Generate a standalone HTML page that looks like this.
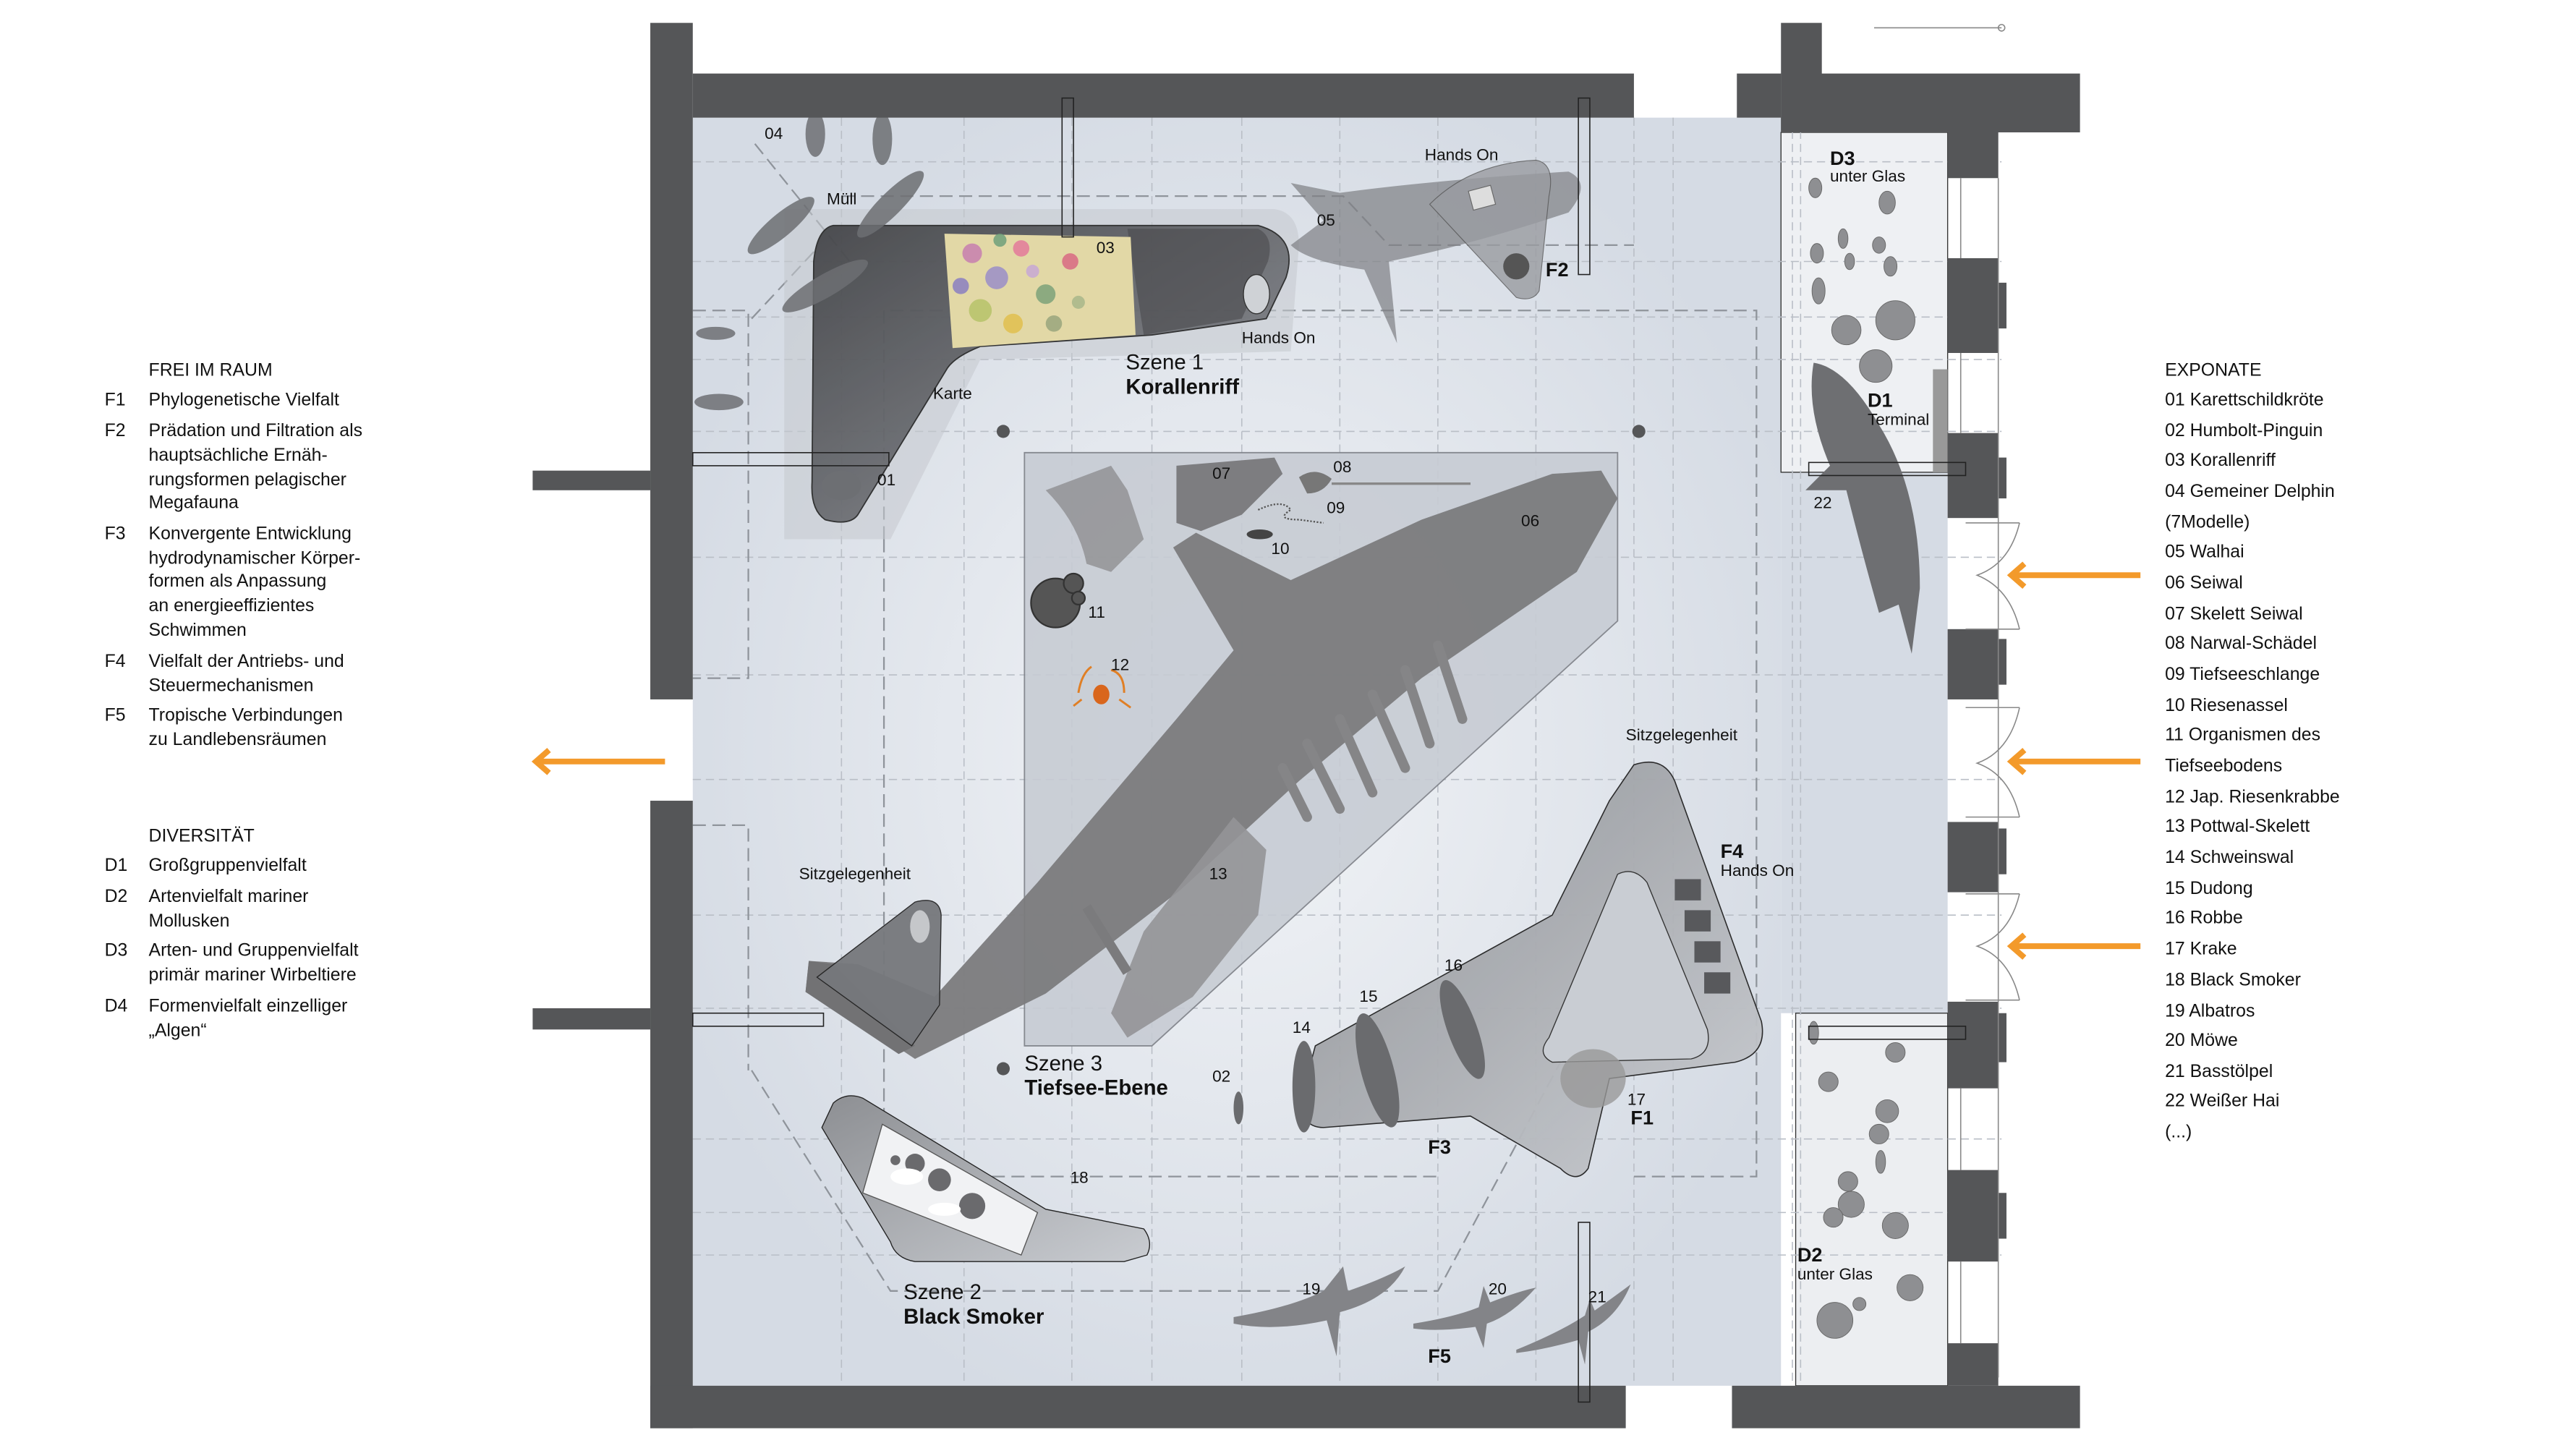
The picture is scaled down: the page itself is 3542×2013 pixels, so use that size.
<!DOCTYPE html>
<html><head><meta charset="utf-8">
<style>
html,body{margin:0;padding:0;background:#fff;}
svg{display:block;}
text{font-family:"Liberation Sans",sans-serif;}
</style></head>
<body>
<svg width="3542" height="2013" viewBox="0 0 1568 891" preserveAspectRatio="none" xmlns="http://www.w3.org/2000/svg">
<defs>
<radialGradient id="glow" cx="50%" cy="50%" r="55%">
<stop offset="0" stop-color="#f2f4f7"/><stop offset="1" stop-color="#d5dbe4"/>
</radialGradient>
<linearGradient id="dk" x1="0" y1="0" x2="1" y2="1">
<stop offset="0" stop-color="#3e3f42"/><stop offset="0.6" stop-color="#6e7075"/><stop offset="1" stop-color="#a4a7ac"/>
</linearGradient>
<linearGradient id="lg" x1="0" y1="0" x2="1" y2="1">
<stop offset="0" stop-color="#8d8f93"/><stop offset="1" stop-color="#c9ccd1"/>
</linearGradient>
</defs>
<rect width="1568" height="891" fill="#fff"/>

<!-- floor -->
<rect x="424" y="72" width="666" height="776" fill="url(#glow)"/>
<rect x="1090" y="289" width="102" height="331" fill="#d5dbe4"/>
<rect x="1090" y="81" width="102" height="208" fill="#eef0f3" stroke="#333" stroke-width="0.6"/>
<rect x="1099" y="620" width="93" height="228" fill="#eceef1" stroke="#333" stroke-width="0.6"/>

<!-- dashed grid -->
<g stroke="#b9bec6" stroke-width="0.7" stroke-dasharray="5 3" fill="none">
<line x1="424" y1="99" x2="1225" y2="99"/>
<line x1="424" y1="160" x2="1225" y2="160"/>
<line x1="424" y1="194" x2="1225" y2="194"/>
<line x1="424" y1="220" x2="1225" y2="220"/>
<line x1="424" y1="264" x2="1225" y2="264"/>
<line x1="424" y1="341" x2="1225" y2="341"/>
<line x1="424" y1="413" x2="1225" y2="413"/>
<line x1="424" y1="477" x2="1225" y2="477"/>
<line x1="424" y1="560" x2="1225" y2="560"/>
<line x1="424" y1="617" x2="1225" y2="617"/>
<line x1="424" y1="697" x2="1225" y2="697"/>
<line x1="424" y1="742" x2="1225" y2="742"/>
<line x1="424" y1="768" x2="1225" y2="768"/>
<line x1="515" y1="72" x2="515" y2="848"/>
<line x1="590" y1="72" x2="590" y2="848"/>
<line x1="656" y1="72" x2="656" y2="848"/>
<line x1="705" y1="72" x2="705" y2="848"/>
<line x1="760" y1="72" x2="760" y2="848"/>
<line x1="820" y1="72" x2="820" y2="848"/>
<line x1="880" y1="72" x2="880" y2="848"/>
<line x1="940" y1="72" x2="940" y2="848"/>
<line x1="1000" y1="72" x2="1000" y2="848"/>
<line x1="1024" y1="72" x2="1024" y2="848"/>
<line x1="1097" y1="72" x2="1097" y2="848"/>
<line x1="1102" y1="72" x2="1102" y2="848"/>
</g>
<g stroke="#8f949b" stroke-width="1" stroke-dasharray="8 4" fill="none">
<polyline points="541,330 541,190 1075,190 1075,720 1000,720"/>
<polyline points="541,330 541,720 880,720"/>
<polyline points="424,190 458,190 458,415 424,415"/>
<polyline points="424,505 458,505 458,655"/>
<polyline points="515,120 822,120 850,150 1000,150"/>
<polyline points="460,195 500,152"/>
<polyline points="460,655 545,790 880,790 955,650"/>
<polyline points="462,88 520,160"/>
</g>

<!-- Scene 3 platform -->
<polygon points="627,277 990,277 990,380 705,640 627,640" fill="#c7ccd4" stroke="#7d8087" stroke-width="0.8" opacity="0.9"/>

<!-- Scene 1 L structure -->
<path d="M480,128 L780,128 Q795,130 795,150 L790,215 L600,220 L545,330 L480,330 Z" fill="#c4c8ce" opacity="0.55"/>
<path d="M510,138 L770,138 Q795,145 787,170 L775,195 L705,205 L600,212 Q585,218 580,225 L525,315 Q520,322 505,318 Q496,312 497,295 L498,160 Q500,140 510,138 Z" fill="url(#dk)" stroke="#222" stroke-width="0.8" opacity="0.9"/>
<path d="M690,140 L770,140 Q780,145 776,160 L760,195 L700,205 Z" fill="#4a4a4d" opacity="0.6"/>
<polygon points="578,143 692,145 695,205 583,213" fill="#e2d8a6"/>
<g opacity="0.85">
<circle cx="595" cy="155" r="6" fill="#c77fb0"/><circle cx="610" cy="170" r="7" fill="#9b8fc9"/>
<circle cx="625" cy="152" r="5" fill="#e47b9b"/><circle cx="600" cy="190" r="7" fill="#b7c36a"/>
<circle cx="640" cy="180" r="6" fill="#7ea37a"/><circle cx="655" cy="160" r="5" fill="#d96a83"/>
<circle cx="620" cy="198" r="6" fill="#e1c04f"/><circle cx="645" cy="198" r="5" fill="#9aa67e"/>
<circle cx="588" cy="175" r="5" fill="#8b7fc2"/><circle cx="632" cy="166" r="4" fill="#c8a9d6"/>
<circle cx="660" cy="185" r="4" fill="#a9b88a"/><circle cx="612" cy="147" r="4" fill="#6fa07b"/>
</g>
<ellipse cx="769" cy="180" rx="8" ry="12" fill="#cfd2d6" stroke="#333" stroke-width="0.6"/>

<!-- dolphins 04 -->
<g fill="#6d6f73" opacity="0.85">
<ellipse cx="499" cy="82" rx="6" ry="14"/><ellipse cx="540" cy="85" rx="6" ry="16"/>
<ellipse cx="478" cy="138" rx="26" ry="7" transform="rotate(-40 478 138)"/>
<ellipse cx="545" cy="125" rx="28" ry="7" transform="rotate(-45 545 125)"/>
<ellipse cx="505" cy="175" rx="30" ry="7" transform="rotate(-30 505 175)"/>
<ellipse cx="438" cy="204" rx="12" ry="4"/><ellipse cx="440" cy="246" rx="15" ry="5"/>
</g>
<ellipse cx="515" cy="297" rx="12" ry="9" fill="#6d6f73"/>

<!-- whale shark 05 -->
<g fill="#7d7f83" opacity="0.7">
<path d="M790,112 L820,118 Q880,110 960,105 Q975,112 960,130 Q900,150 850,160 L855,210 L835,165 Q800,160 790,150 L810,135 Z"/>
</g>
<path d="M875,125 Q900,100 940,98 Q952,100 948,120 L942,178 Q938,185 928,182 Z" fill="#9a9ca1" opacity="0.8" stroke="#555" stroke-width="0.5"/>
<rect x="900" y="115" width="14" height="12" fill="#ddd" stroke="#666" stroke-width="0.5" transform="rotate(-15 907 121)"/>
<circle cx="928" cy="163" r="8" fill="#555"/>

<!-- whale 06 -->
<polygon points="980,288 990,305 965,350 870,415 795,478 722,545 640,608 560,648 548,640 493,607 495,588 525,590 572,610 635,540 720,440 755,398 718,335 732,326 790,355 870,318 950,290" fill="#7b7b7d" opacity="0.95"/>
<polygon points="495,588 510,590 560,640 550,645 493,607" fill="#727274"/>
<g stroke="#858587" stroke-width="6" stroke-linecap="round" fill="none">
<line x1="880" y1="395" x2="895" y2="440"/><line x1="860" y1="410" x2="875" y2="455"/>
<line x1="840" y1="425" x2="860" y2="470"/><line x1="820" y1="440" x2="840" y2="485"/>
<line x1="800" y1="455" x2="820" y2="495"/><line x1="785" y1="470" x2="800" y2="500"/>
</g>
<polygon points="700,570 755,500 775,520 770,560 730,610 690,635 680,620" fill="#949497" opacity="0.9"/>
<line x1="665" y1="555" x2="690" y2="595" stroke="#7b7b7d" stroke-width="6"/>
<!-- 07 08 -->
<polygon points="720,285 780,280 785,290 760,315 735,325 720,320" fill="#7d7d80"/>
<path d="M640,300 Q660,320 665,345 L680,350 L700,330 L690,300 L680,285 Z" fill="#8e8e91" opacity="0.8"/>
<path d="M795,292 Q805,285 815,293 Q810,302 800,302 Z" fill="#777"/>
<line x1="815" y1="296" x2="900" y2="296" stroke="#888" stroke-width="1.5"/>
<ellipse cx="771" cy="327" rx="8" ry="3" fill="#444"/>
<path d="M770,312 Q785,305 790,312 Q780,318 795,318 L810,320" stroke="#555" stroke-width="1" fill="none" stroke-dasharray="1 1"/>
<circle cx="646" cy="369" r="15" fill="#555" stroke="#333"/>
<circle cx="657" cy="357" r="6" fill="#555" stroke="#333"/>
<circle cx="660" cy="366" r="4" fill="#555" stroke="#333"/>
<!-- crab -->
<g stroke="#e07f25" stroke-width="1.3" fill="none">
<path d="M660,424 Q662,412 668,408"/><path d="M688,424 Q688,412 680,410"/>
<path d="M662,428 L657,432"/><path d="M685,428 L692,433"/>
</g>
<ellipse cx="674" cy="425" rx="5" ry="6" fill="#d9661c"/>

<!-- Sitzgelegenheit left -->
<path d="M500,598 L560,552 Q575,548 576,560 L575,615 L558,640 Z" fill="#76787c" stroke="#222" stroke-width="0.6" opacity="0.95"/>
<ellipse cx="563" cy="567" rx="6" ry="10" fill="#c5c7ca"/>

<!-- F4 / F3 -->
<path d="M1000,468 Q1018,462 1025,478 L1078,625 Q1082,645 1062,650 L985,660 L972,715 Q965,725 955,715 L900,683 L810,690 Q795,690 797,670 L805,640 L950,560 L985,490 Z" fill="url(#lg)" stroke="#222" stroke-width="0.7" opacity="0.95"/>
<path d="M990,535 Q1000,530 1008,540 L1045,630 Q1048,645 1035,648 L950,650 Q940,645 948,635 Z" fill="#c9cdd3" stroke="#333" stroke-width="0.6"/>
<g fill="#58595c"><rect x="1025" y="538" width="16" height="13"/><rect x="1031" y="557" width="16" height="13"/><rect x="1037" y="576" width="16" height="13"/><rect x="1043" y="595" width="16" height="13"/></g>
<g fill="#6a6b6e">
<ellipse cx="798" cy="665" rx="7" ry="28"/><ellipse cx="843" cy="655" rx="10" ry="36" transform="rotate(-15 843 655)"/>
<ellipse cx="895" cy="630" rx="9" ry="32" transform="rotate(-20 895 630)"/>
<ellipse cx="758" cy="678" rx="3" ry="10"/>
</g>
<ellipse cx="975" cy="660" rx="20" ry="18" fill="#999" opacity="0.8"/>

<!-- Scene 2 -->
<path d="M510,675 Q518,668 528,672 L640,740 L700,752 Q706,760 702,768 L688,772 L560,772 Q548,770 545,760 L503,690 Z" fill="url(#lg)" stroke="#222" stroke-width="0.6"/>
<polygon points="540,688 635,742 625,768 528,730" fill="#f1f2f4" stroke="#555" stroke-width="0.6"/>
<g fill="#6a6a6d"><circle cx="560" cy="712" r="6"/><circle cx="575" cy="722" r="7"/><circle cx="595" cy="738" r="8"/><circle cx="548" cy="710" r="3"/></g>
<g fill="#fff"><ellipse cx="555" cy="720" rx="10" ry="5"/><ellipse cx="578" cy="740" rx="10" ry="4"/></g>

<!-- birds -->
<g fill="#838488">
<path d="M755,806 Q790,800 810,790 L822,775 L825,790 Q848,782 860,775 Q850,795 820,803 L818,830 L812,808 Q780,815 755,810 Z"/>
<path d="M865,810 Q890,806 905,800 L908,787 L912,797 Q930,790 940,788 Q925,805 910,810 L908,825 L903,812 Q880,815 865,813 Z"/>
<path d="M928,826 Q955,815 970,805 L973,795 L976,802 Q990,792 998,786 Q990,806 972,815 L970,835 L966,820 Q945,826 928,828 Z"/>
</g>

<!-- shark 22 -->
<path d="M1110,222 Q1130,225 1150,260 Q1175,300 1175,360 L1170,400 L1162,370 L1150,375 Q1140,340 1130,300 L1105,300 L1120,285 Q1105,250 1110,222 Z" fill="#6e6f72"/>

<!-- D3/D2 circles -->
<g fill="#8e8f92" stroke="#666" stroke-width="0.4">
<ellipse cx="1111" cy="115" rx="4" ry="6"/><ellipse cx="1155" cy="124" rx="5" ry="7"/>
<ellipse cx="1128" cy="146" rx="3" ry="6"/><ellipse cx="1132" cy="160" rx="3" ry="5"/>
<ellipse cx="1150" cy="150" rx="4" ry="5"/><ellipse cx="1157" cy="163" rx="4" ry="6"/>
<ellipse cx="1112" cy="155" rx="4" ry="6"/><ellipse cx="1113" cy="178" rx="4" ry="8"/>
<circle cx="1130" cy="202" r="9"/><circle cx="1160" cy="196" r="12"/><circle cx="1148" cy="224" r="10"/>
<ellipse cx="1110" cy="632" rx="3" ry="7"/><circle cx="1119" cy="662" r="6"/><circle cx="1160" cy="644" r="6"/>
<circle cx="1155" cy="680" r="7"/><circle cx="1150" cy="694" r="6"/><ellipse cx="1151" cy="711" rx="3" ry="7"/>
<circle cx="1131" cy="723" r="6"/><circle cx="1133" cy="737" r="8"/><circle cx="1122" cy="745" r="6"/>
<circle cx="1160" cy="750" r="8"/><circle cx="1169" cy="788" r="8"/><circle cx="1123" cy="808" r="11"/><circle cx="1138" cy="798" r="4"/>
</g>
<rect x="1183" y="226" width="9" height="63" fill="#999"/>

<!-- walls -->
<g fill="#555658">
<rect x="398" y="14" width="26" height="414"/>
<rect x="398" y="490" width="26" height="384"/>
<rect x="326" y="288" width="72" height="12"/>
<rect x="326" y="617" width="72" height="13"/>
<rect x="424" y="45" width="576" height="27"/>
<rect x="1063" y="45" width="27" height="27"/>
<rect x="1090" y="14" width="25" height="67"/>
<rect x="1090" y="45" width="183" height="36"/>
<rect x="1192" y="81" width="31" height="28"/>
<rect x="1192" y="158" width="31" height="58"/><rect x="1223" y="173" width="5" height="28"/>
<rect x="1192" y="265" width="31" height="52"/><rect x="1223" y="280" width="5" height="25"/>
<rect x="1192" y="385" width="31" height="43"/><rect x="1223" y="391" width="5" height="28"/>
<rect x="1192" y="503" width="31" height="43"/><rect x="1223" y="507" width="5" height="28"/>
<rect x="1192" y="613" width="31" height="53"/><rect x="1223" y="620" width="5" height="30"/>
<rect x="1192" y="716" width="31" height="56"/><rect x="1223" y="730" width="5" height="28"/>
<rect x="1192" y="822" width="31" height="26"/>
<rect x="398" y="848" width="597" height="26"/>
<rect x="1060" y="848" width="213" height="26"/>
</g>
<g stroke="#888" stroke-width="0.7" fill="none">
<line x1="1223" y1="109" x2="1223" y2="843"/>
<line x1="1200" y1="109" x2="1200" y2="158"/><line x1="1200" y1="216" x2="1200" y2="265"/>
<line x1="1200" y1="666" x2="1200" y2="716"/><line x1="1200" y1="772" x2="1200" y2="822"/>
<line x1="1147" y1="17" x2="1225" y2="17"/><circle cx="1225" cy="17" r="2"/>
<path d="M1203,320 L1236,320 M1203,385 L1236,385 M1236,320 Q1230,345 1210,352 Q1230,360 1236,385"/>
<path d="M1203,433 L1236,433 M1203,500 L1236,500 M1236,433 Q1230,460 1210,467 Q1230,474 1236,500"/>
<path d="M1203,547 L1236,547 M1203,612 L1236,612 M1236,547 Q1230,572 1210,579 Q1230,586 1236,612"/>
</g>
<g fill="none" stroke="#222" stroke-width="0.7">
<rect x="650" y="60" width="7" height="85"/><rect x="966" y="60" width="7" height="108"/>
<rect x="424" y="277" width="120" height="8"/><rect x="424" y="620" width="80" height="8"/>
<rect x="966" y="748" width="7" height="110"/><rect x="1107" y="628" width="96" height="8"/>
<rect x="1107" y="283" width="96" height="8"/>
</g>
<g fill="#555658"><circle cx="614" cy="264" r="4"/><circle cx="1003" cy="264" r="4"/><circle cx="614" cy="654" r="4"/></g>

<!-- arrows -->
<g stroke="#f39a2b" stroke-width="3.5" fill="none">
<line x1="407" y1="466" x2="330" y2="466"/><polyline points="336,459 328,466 336,473"/>
<line x1="1310" y1="352" x2="1233" y2="352"/><polyline points="1239,345 1231,352 1239,359"/>
<line x1="1310" y1="466" x2="1233" y2="466"/><polyline points="1239,459 1231,466 1239,473"/>
<line x1="1310" y1="579" x2="1233" y2="579"/><polyline points="1239,572 1231,579 1239,586"/>
</g>

<!-- plan labels -->
<g font-size="10" fill="#111">
<text x="468" y="85">04</text><text x="506" y="125">Müll</text><text x="671" y="155">03</text>
<text x="806" y="138">05</text><text x="872" y="98">Hands On</text><text x="760" y="210">Hands On</text>
<text x="571" y="244">Karte</text><text x="537" y="297">01</text>
<text x="742" y="293">07</text><text x="816" y="289">08</text><text x="812" y="314">09</text>
<text x="778" y="339">10</text><text x="931" y="322">06</text><text x="666" y="378">11</text>
<text x="680" y="410">12</text><text x="740" y="538">13</text>
<text x="489" y="538">Sitzgelegenheit</text><text x="995" y="453">Sitzgelegenheit</text>
<text x="1053" y="536">Hands On</text>
<text x="742" y="662">02</text><text x="791" y="632">14</text><text x="832" y="613">15</text><text x="884" y="594">16</text>
<text x="996" y="676">17</text><text x="655" y="724">18</text>
<text x="797" y="792">19</text><text x="911" y="792">20</text><text x="972" y="797">21</text>
<text x="1110" y="311">22</text>
<text x="1120" y="111">unter Glas</text><text x="1143" y="260">Terminal</text><text x="1100" y="783">unter Glas</text>
</g>
<g font-size="12" font-weight="bold" fill="#111">
<text x="946" y="169">F2</text><text x="1053" y="525">F4</text><text x="998" y="688">F1</text>
<text x="874" y="706">F3</text><text x="874" y="834">F5</text>
<text x="1120" y="101">D3</text><text x="1143" y="249">D1</text><text x="1100" y="772">D2</text>
</g>
<g font-size="13" fill="#111">
<text x="689" y="226">Szene 1</text><text x="689" y="241" font-weight="bold">Korallenriff</text>
<text x="627" y="655">Szene 3</text><text x="627" y="670" font-weight="bold">Tiefsee-Ebene</text>
<text x="553" y="795">Szene 2</text><text x="553" y="810" font-weight="bold">Black Smoker</text>
</g>

<!-- left legend -->
<g font-size="11" fill="#111">
<text x="91" y="230">FREI IM RAUM</text>
<text x="64" y="248">F1</text><text x="91" y="248">Phylogenetische Vielfalt</text>
<text x="64" y="267">F2</text><text x="91" y="267">Prädation und Filtration als</text>
<text x="91" y="282">hauptsächliche Ernäh-</text><text x="91" y="297">rungsformen pelagischer</text><text x="91" y="311">Megafauna</text>
<text x="64" y="330">F3</text><text x="91" y="330">Konvergente Entwicklung</text>
<text x="91" y="345">hydrodynamischer Körper-</text><text x="91" y="359">formen als Anpassung</text>
<text x="91" y="374">an energieeffizientes</text><text x="91" y="389">Schwimmen</text>
<text x="64" y="408">F4</text><text x="91" y="408">Vielfalt der Antriebs- und</text><text x="91" y="423">Steuermechanismen</text>
<text x="64" y="441">F5</text><text x="91" y="441">Tropische Verbindungen</text><text x="91" y="456">zu Landlebensräumen</text>
<text x="91" y="515">DIVERSITÄT</text>
<text x="64" y="533">D1</text><text x="91" y="533">Großgruppenvielfalt</text>
<text x="64" y="552">D2</text><text x="91" y="552">Artenvielfalt mariner</text><text x="91" y="567">Mollusken</text>
<text x="64" y="585">D3</text><text x="91" y="585">Arten- und Gruppenvielfalt</text><text x="91" y="600">primär mariner Wirbeltiere</text>
<text x="64" y="619">D4</text><text x="91" y="619">Formenvielfalt einzelliger</text><text x="91" y="634">„Algen“</text>
</g>

<!-- right legend -->
<g font-size="11" fill="#111">
<text x="1325" y="230">EXPONATE</text>
<text x="1325" y="248">01 Karettschildkröte</text>
<text x="1325" y="267">02 Humbolt-Pinguin</text>
<text x="1325" y="285">03 Korallenriff</text>
<text x="1325" y="304">04 Gemeiner Delphin</text>
<text x="1325" y="323">(7Modelle)</text>
<text x="1325" y="341">05 Walhai</text>
<text x="1325" y="360">06 Seiwal</text>
<text x="1325" y="379">07 Skelett Seiwal</text>
<text x="1325" y="397">08 Narwal-Schädel</text>
<text x="1325" y="416">09 Tiefseeschlange</text>
<text x="1325" y="435">10 Riesenassel</text>
<text x="1325" y="453">11 Organismen des</text>
<text x="1325" y="472">Tiefseebodens</text>
<text x="1325" y="491">12 Jap. Riesenkrabbe</text>
<text x="1325" y="509">13 Pottwal-Skelett</text>
<text x="1325" y="528">14 Schweinswal</text>
<text x="1325" y="547">15 Dudong</text>
<text x="1325" y="565">16 Robbe</text>
<text x="1325" y="584">17 Krake</text>
<text x="1325" y="603">18 Black Smoker</text>
<text x="1325" y="622">19 Albatros</text>
<text x="1325" y="640">20 Möwe</text>
<text x="1325" y="659">21 Basstölpel</text>
<text x="1325" y="677">22 Weißer Hai</text>
<text x="1325" y="696">(...)</text>
</g>
</svg>
</body></html>
